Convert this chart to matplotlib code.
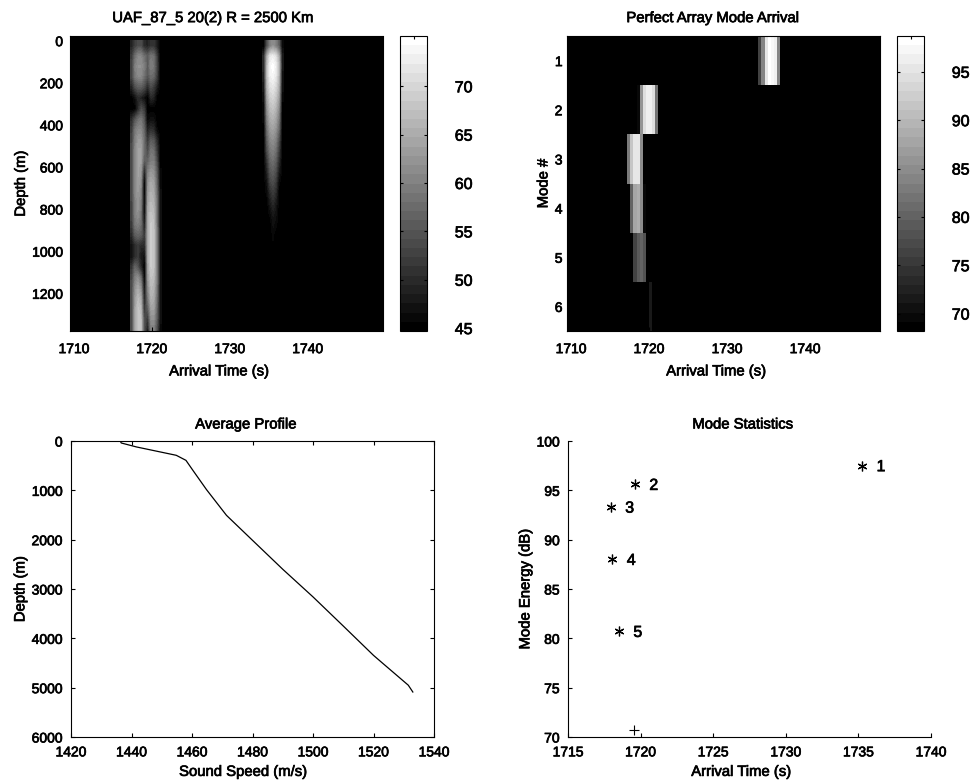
import matplotlib
matplotlib.use("Agg")
import matplotlib.pyplot as plt
import matplotlib.patheffects as pe
import matplotlib.text as mtext
import numpy as np

plt.rcParams['font.family'] = ['Liberation Sans', 'DejaVu Sans']
plt.rcParams['font.size'] = 10

# arrival vs depth, early modes (dB), rows every 50 m from 25 m
early_time = [1717.4, 1717.8, 1718.2, 1718.6, 1719.0, 1719.4, 1719.8, 1720.2, 1720.6, 1721.0]
early_db = [
    [49, 52, 54, 54, 50, 49, 51, 51, 48, 45],
    [52, 58, 61, 61, 58, 56, 59, 58, 52, 45],
    [53, 60, 62, 62, 60, 56, 60, 59, 53, 45],
    [53, 59, 61, 61, 58, 55, 58, 57, 52, 45],
    [49, 54, 56, 56, 54, 50, 54, 52, 48, 45],
    [45, 47, 50, 49, 47, 45, 50, 49, 45, 45],
    [45, 45, 50, 54, 52, 45, 45, 45, 45, 45],
    [50, 55, 58, 59, 55, 46, 47, 47, 45, 45],
    [52, 59, 61, 61, 57, 49, 51, 50, 46, 45],
    [53, 60, 63, 63, 58, 52, 56, 55, 50, 45],
    [54, 61, 64, 64, 58, 54, 59, 58, 52, 45],
    [54, 61, 64, 64, 56, 57, 60, 60, 54, 45],
    [54, 61, 64, 63, 50, 60, 63, 62, 56, 46],
    [54, 61, 64, 62, 46, 62, 65, 64, 57, 46],
    [54, 61, 63, 61, 46, 63, 66, 65, 58, 47],
    [53, 60, 63, 60, 46, 64, 67, 66, 59, 47],
    [53, 60, 62, 59, 47, 65, 68, 67, 59, 47],
    [52, 59, 60, 58, 49, 65, 69, 68, 59, 47],
    [50, 56, 57, 56, 52, 65, 69, 68, 60, 47],
    [47, 50, 52, 50, 50, 65, 69, 68, 60, 47],
    [47, 50, 52, 48, 47, 65, 69, 68, 60, 47],
    [51, 57, 55, 50, 45, 64, 69, 68, 60, 47],
    [53, 60, 62, 58, 46, 63, 68, 67, 60, 47],
    [54, 62, 65, 62, 48, 61, 67, 66, 59, 47],
    [54, 63, 67, 65, 50, 59, 66, 65, 58, 47],
    [54, 64, 68, 67, 52, 56, 64, 64, 57, 47],
    [54, 64, 68, 68, 55, 52, 62, 62, 56, 47],
    [54, 64, 68, 68, 55, 49, 60, 60, 54, 46],
]

# arrival vs depth, mode 1 (dB), rows every 50 m from 25 m
late_time = [1734.4, 1734.8, 1735.2, 1735.6, 1736.0, 1736.4, 1736.8]
late_db = [
    [45, 54, 60, 62, 60, 56, 46],
    [50, 65, 72, 73, 71, 65, 48],
    [50, 67, 74, 75, 73, 67, 48],
    [49, 67, 73, 74, 72, 66, 47],
    [48, 66, 71, 72, 70, 65, 47],
    [47, 64, 69, 70, 68, 63, 46],
    [46, 62, 67, 68, 66, 61, 45],
    [46, 60, 65, 66, 64, 59, 45],
    [45, 58, 63, 64, 62, 57, 45],
    [45, 56, 61, 62, 60, 54, 45],
    [45, 54, 59, 60, 58, 52, 45],
    [45, 51, 57, 58, 56, 50, 45],
    [45, 49, 55, 56, 54, 48, 45],
    [45, 47, 53, 54, 52, 46, 45],
    [45, 46, 50, 52, 50, 45, 45],
    [45, 45, 48, 50, 48, 45, 45],
    [45, 45, 46, 48, 47, 45, 45],
    [45, 45, 45, 47, 46, 45, 45],
    [45, 45, 45, 46, 45, 45, 45],
]

# perfect array, one row per mode (dB)
mode_num = [1, 2, 3, 4, 5, 6]
mode_time = [1717.4, 1717.8, 1718.2, 1718.6, 1719.0, 1719.4, 1719.8, 1720.2, 1720.6, 1721.0]
mode_db = [
    [68, 68, 68, 68, 68, 68, 68, 68, 68, 68],
    [68, 68, 68, 70, 86, 94, 96, 96, 94, 82],
    [82.5, 92, 95, 95, 85, 68, 68, 68, 68, 68],
    [68, 80, 88, 88.5, 85, 70, 68, 68, 68, 68],
    [68, 68, 76.6, 79, 80, 78, 68, 68, 68, 68],
    [68, 68, 68, 68, 68, 68, 68, 71.5, 68, 68],
]
mode1_time = [1734.2, 1734.6, 1735.0, 1735.4, 1735.8, 1736.2, 1736.6]
mode1_db = [[76.6, 84, 95, 98, 97.5, 96, 84]]

# average sound speed profile
speed = [1436.3, 1436.6, 1441.6, 1454.8, 1458, 1460.3, 1464.8, 1471.4, 1480, 1490,
         1500, 1510, 1520, 1523.2, 1531.5, 1533]
depth_profile = [0, 40, 120, 290, 392, 595, 986, 1507, 2013, 2600,
                 3160, 3750, 4345, 4514, 4950, 5088]

# mode statistics
stat_time = [1735.25, 1719.6, 1717.94, 1718.05, 1718.5]
stat_energy = [97.5, 95.6, 93.3, 88.0, 80.7]
stat_labels = ['1', '2', '3', '4', '5']
weak_time = [1719.56]
weak_energy = [70.7]

W, H = 972, 783
fig = plt.figure(figsize=(W / 100, H / 100), dpi=100)


def px_axes(left, top, right, bottom):
    return fig.add_axes([left / W, 1 - bottom / H, (right - left) / W, (bottom - top) / H])


def style(ax, xpad, ypad):
    ax.tick_params(direction='in', length=3, width=0.8)
    ax.tick_params(axis='x', pad=xpad)
    ax.tick_params(axis='y', pad=ypad)


def bar(mesh, left, right, ticks):
    cax = px_axes(left, 36, right, 331)
    cb = fig.colorbar(mesh, cax=cax)
    cb.set_ticks(ticks)
    cax.tick_params(axis='y', direction='in', left=True, right=True, length=2,
                    width=0.8, pad=20, labelsize=11.5)
    cax.xaxis.set_ticks([0.5])
    cax.tick_params(axis='x', direction='in', top=True, bottom=False, labelbottom=False, length=2)


def lobe(ax, times, rows, vmin, vmax):
    # rows are 50 m apart, first row centred on 25 m
    return ax.imshow(np.array(rows), cmap=gray32, vmin=vmin, vmax=vmax, aspect='auto',
                     interpolation='bilinear',
                     extent=(times[0] - 0.2, times[-1] + 0.2, 50 * len(rows), 0))


gray32 = plt.get_cmap('gray', 32)

# top left
ax1 = px_axes(70, 36, 382.5, 331)
ax1.set_facecolor('black')
m1 = lobe(ax1, early_time, early_db, 44.7, 75.2)
lobe(ax1, late_time, late_db, 44.7, 75.2)
ax1.set_xlim(1709.5, 1749.6)
ax1.set_ylim(1379, -22)
ax1.set_xticks([1710, 1720, 1730, 1740])
ax1.set_yticks([0, 200, 400, 600, 800, 1000, 1200])
ax1.set_xlabel('Arrival Time (s)', labelpad=6, fontsize=10.7, x=0.478)
ax1.set_ylabel('Depth (m)', labelpad=3, fontsize=10.7)
ax1.set_title('UAF_87_5 20(2) R = 2500 Km', fontsize=10.7, pad=10, x=0.458)
style(ax1, 8, 5)
bar(m1, 400, 427, [45, 50, 55, 60, 65, 70])

# top right
ax2 = px_axes(566.7, 36, 880, 331)
ax2.set_facecolor('black')
m2 = ax2.pcolormesh(mode_time, mode_num, np.array(mode_db), cmap=gray32, vmin=68.2, vmax=98.7, shading='nearest')
mode1_edges = np.array(mode1_time + [mode1_time[-1] + 0.4]) - 0.2
ax2.pcolormesh(mode1_edges, [0.5, 1.5], np.array(mode1_db), cmap=gray32, vmin=68.2, vmax=98.7)
ax2.set_xlim(1709.45, 1749.6)
ax2.set_ylim(6.5, 0.5)
ax2.set_xticks([1710, 1720, 1730, 1740])
ax2.set_yticks(mode_num)
ax2.set_xlabel('Arrival Time (s)', labelpad=6, fontsize=10.7, x=0.478)
ax2.set_ylabel('Mode #', labelpad=3, fontsize=10.7)
ax2.set_title('Perfect Array Mode Arrival', fontsize=10.7, pad=10, x=0.467)
style(ax2, 8, 3)
bar(m2, 897, 924, [70, 75, 80, 85, 90, 95])

# bottom left
ax3 = px_axes(71, 441, 434, 737)
ax3.plot(speed, depth_profile, color='black', linewidth=0.9)
ax3.set_xlim(1420, 1540)
ax3.set_ylim(6000, 0)
ax3.set_xticks(np.arange(1420, 1541, 20))
ax3.set_yticks(np.arange(0, 6001, 1000))
ax3.tick_params(top=True, right=True)
ax3.set_xlabel('Sound Speed (m/s)', labelpad=4, fontsize=10.7, x=0.474)
ax3.set_ylabel('Depth (m)', labelpad=3, fontsize=10.7)
ax3.set_title('Average Profile', fontsize=10.7, pad=9, x=0.482)
style(ax3, 6, 6)

# bottom right
ax4 = px_axes(568, 441, 931, 737)
ax4.plot(stat_time, stat_energy, linestyle='none', marker=(6, 2, 0), color='black', markersize=7,
         markeredgewidth=0.9)
ax4.plot(weak_time, weak_energy, linestyle='none', marker='+', color='black', markersize=7,
         markeredgewidth=0.8)
for t, e, lab in zip(stat_time, stat_energy, stat_labels):
    ax4.text(t + 1, e - 0.1, lab, ha='left', va='center', fontsize=11.5)
ax4.set_xlim(1715, 1740)
ax4.set_ylim(70, 100)
ax4.set_xticks(np.arange(1715, 1741, 5))
ax4.set_yticks(np.arange(70, 101, 5))
ax4.spines['top'].set_visible(False)
ax4.spines['right'].set_visible(False)
ax4.set_xlabel('Arrival Time (s)', labelpad=4, fontsize=10.7, x=0.478)
ax4.set_ylabel('Mode Energy (dB)', labelpad=3, fontsize=10.7)
ax4.set_title('Mode Statistics', fontsize=10.7, pad=9, x=0.482)
style(ax4, 6, 6)

# the scan has heavy blurred lettering
for t in fig.findobj(mtext.Text):
    t.set_path_effects([pe.withStroke(linewidth=0.5, foreground='black')])

fig.savefig('out.png', dpi=100)
